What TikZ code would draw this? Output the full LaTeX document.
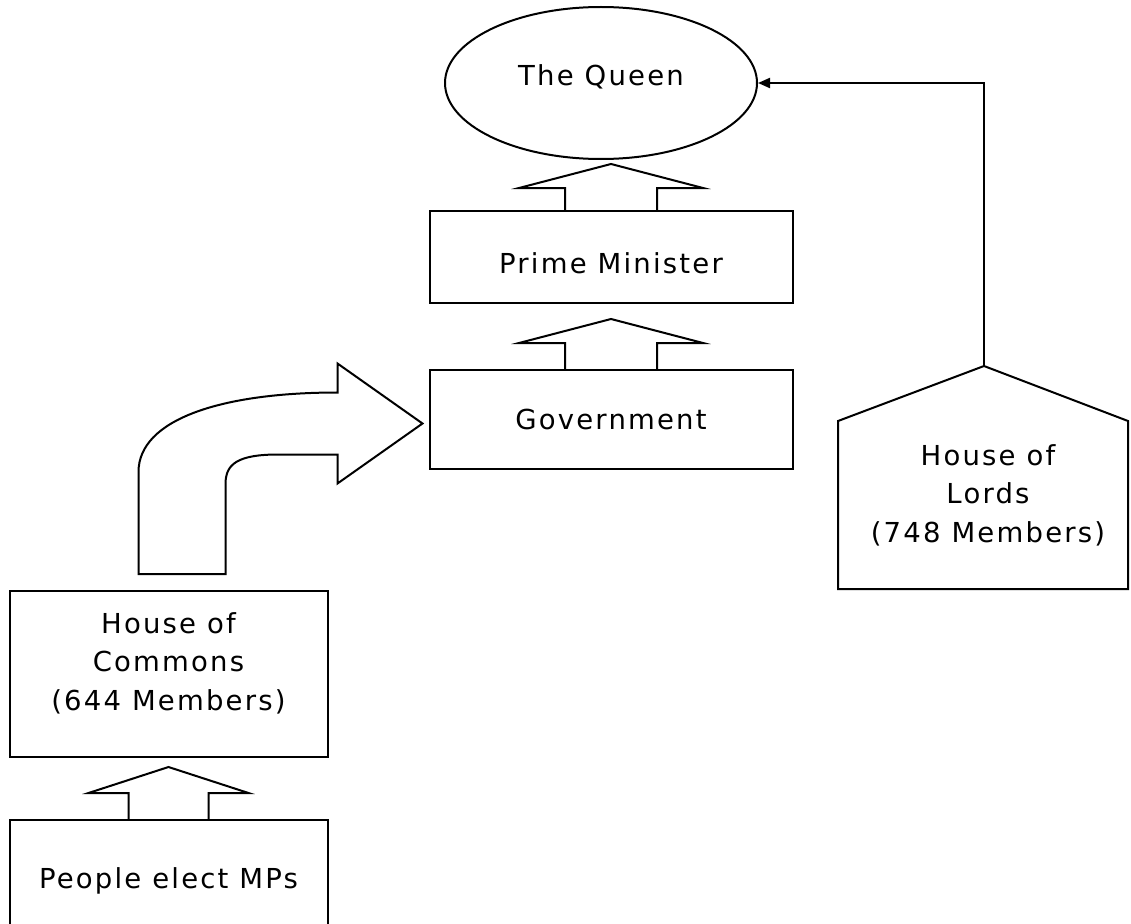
\documentclass[tikz,border=0pt]{standalone}
\usepackage{fontspec}
\setmainfont{DejaVu Sans}[LetterSpace=8]
\usepackage{tikz}
\usetikzlibrary{arrows.meta,positioning,calc,shapes}

\begin{document}
\begin{tikzpicture}[x=1pt,y=-1pt,>={Triangle[length=12pt,width=10pt]},
				font=\fontsize{27.5}{38.5}\selectfont]
				\pgfsetlinewidth{2pt}
				\tikzstyle{box}=[draw=black,rectangle,align=center,inner sep=0pt]
				\useasboundingbox (0,0) rectangle (1131,923);
				\clip (0,0) rectangle (1131,923);
				\node[draw=black,ellipse,minimum width=312pt,minimum height=152pt,
				inner sep=0pt,text depth=16pt] (Q) at (601,83) {The Queen};
				\node[box,minimum width=363pt,minimum height=92pt,text height=34pt]
				(PM) [below=50pt of Q,xshift=10pt] {Prime Minister};
				\node[box,minimum width=363pt,minimum height=99pt]
				(G) [below=65pt of PM] {Government};
				\node[box,minimum width=318pt,minimum height=166pt,text depth=25pt]
				(HC) [below left=120pt and 100pt of G.south west] {House of\\Commons\\(644 Members)};
				\node[box,minimum width=318pt,minimum height=130pt,text depth=14pt]
				(PE) [below=61pt of HC] {People elect MPs};
				\node[align=center] (HL) at (988,495) {House of\\Lords\\(748 Members)};
				\coordinate (HLtop) at ($(HL)+(-4,-129)$);
				
				% house of lords
				\draw (HLtop) -- ($(HL)+(140,-74)$) -- ($(HL)+(140,94)$)
				-- ($(HL)+(-150,94)$) -- ($(HL)+(-150,-74)$) -- cycle;
				\draw[->] (HLtop) |- (Q.east);
				
				% block arrows
				\draw ($(PM.north)+(-46,0)$) -- ++(0,-22) -- ++(-46,0) -- ($(PM.north)+(0,-46)$)
				-- ($(PM.north)+(92,-22)$) -- ++(-46,0) -- ++(0,22);
				\draw ($(G.north)+(-46,0)$) -- ++(0,-26) -- ++(-46,0) -- ($(G.north)+(0,-50)$)
				-- ($(G.north)+(92,-26)$) -- ++(-46,0) -- ++(0,26);
				\draw ($(PE.north)+(-40,0)$) -- ++(0,-26) -- ++(-40,0) -- ($(PE.north)+(0,-52)$)
				-- ($(PE.north)+(80,-26)$) -- ++(-40,0) -- ++(0,26);
				
				\coordinate (tip) at ($(G.west)+(-6,4)$);
				\coordinate (base) at ($(HC.north)+(0,-16)$);
				\draw ($(base)+(-30,0)$) -- ($(base)+(-30,-102)$)
				.. controls ($(base)+(-30,-155)$) and ($(tip)+(-200,-31)$) .. ($(tip)+(-85,-31)$)
				-- ($(tip)+(-85,-60)$) -- (tip) -- ($(tip)+(-85,60)$) -- ($(tip)+(-85,31)$)
				-- ($(tip)+(-144,31)$)
				.. controls ($(tip)+(-185,31)$) and ($(base)+(57,-110)$) .. ($(base)+(57,-90)$)
				-- ($(base)+(57,0)$) -- cycle;
			\end{tikzpicture}
\end{document}
